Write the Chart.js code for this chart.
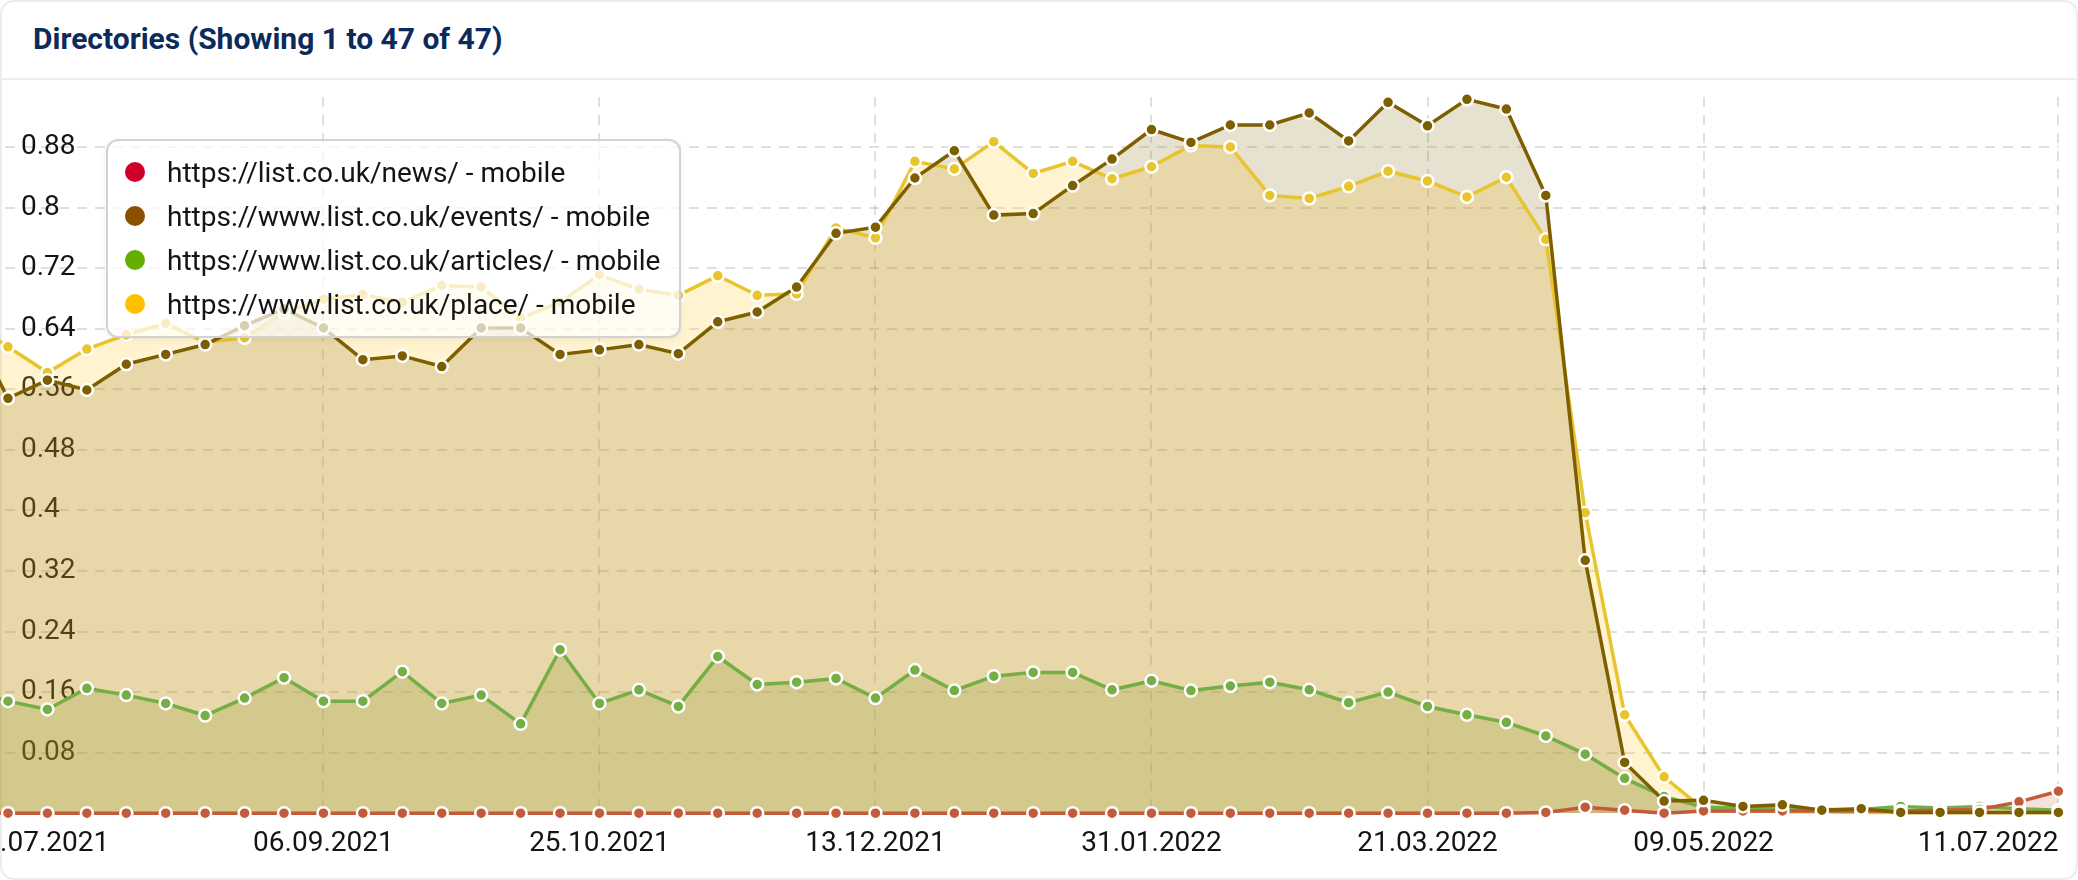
<!DOCTYPE html>
<html>
<head>
<meta charset="utf-8">
<title>Directories</title>
<script src="https://cdn.jsdelivr.net/npm/chart.js@4.4.1/dist/chart.umd.min.js"></script>
<style>
    html, body { margin: 0; padding: 0; background: #fff; }
    .card {
        position: relative;
        width: 2078px;
        height: 880px;
        overflow: hidden;
        border-radius: 14px;
        box-shadow: inset 0 0 0 2px #ececec;
        font-family: Roboto, "Noto Sans", sans-serif;
    }
    .card-header {
        position: absolute;
        left: 0; top: 0;
        width: 100%;
        height: 78px;
        border-bottom: 2px solid #eeeeee;
    }
    .card-header h2 {
        margin: 0;
        padding-left: 33px;
        line-height: 78px;
        font-size: 30px;
        font-weight: 700;
        color: #0c2a5a;
    }
    #chartWrap { position: absolute; left: -40px; top: 80px; }
    .legend {
        position: absolute;
        left: 106px; top: 139px;
        width: 575px; height: 199px;
        box-sizing: border-box;
        padding: 9px 0 0 17px;
        border: 2px solid #d2d2d2;
        border-radius: 12px;
        background: rgba(255, 255, 255, 0.7);
        box-shadow: 0 2px 6px rgba(0, 0, 0, 0.06);
    }
    .legend-item {
        display: flex;
        align-items: center;
        height: 44px;
        font-size: 28px;
        color: #141414;
        white-space: nowrap;
    }
    .legend-dot {
        width: 20px; height: 20px;
        border-radius: 50%;
        margin-right: 22px;
        flex: none;
    }
</style>
</head>
<body>
<div class="card">
    <div class="card-header"><h2>Directories (Showing 1 to 47 of 47)</h2></div>
    <div id="chartWrap"><canvas id="dirChart" width="2118" height="800"></canvas></div>
    <div class="legend" id="legend"></div>
</div>

<script>
// ---------------------------------------------------------
// data (weekly, first point sits just outside the visible card)
// ---------------------------------------------------------
const labels = [
    '05.07.2021', '12.07.2021', '19.07.2021', '26.07.2021', '02.08.2021', '09.08.2021',
    '16.08.2021', '23.08.2021', '30.08.2021', '06.09.2021', '13.09.2021', '20.09.2021',
    '27.09.2021', '04.10.2021', '11.10.2021', '18.10.2021', '25.10.2021', '01.11.2021',
    '08.11.2021', '15.11.2021', '22.11.2021', '29.11.2021', '06.12.2021', '13.12.2021',
    '20.12.2021', '27.12.2021', '03.01.2022', '10.01.2022', '17.01.2022', '24.01.2022',
    '31.01.2022', '07.02.2022', '14.02.2022', '21.02.2022', '28.02.2022', '07.03.2022',
    '14.03.2022', '21.03.2022', '28.03.2022', '04.04.2022', '11.04.2022', '18.04.2022',
    '25.04.2022', '02.05.2022', '09.05.2022', '16.05.2022', '23.05.2022', '30.05.2022',
    '06.06.2022', '13.06.2022', '20.06.2022', '27.06.2022', '04.07.2022', '11.07.2022'
];

const newsMobile = [
    0, 0, 0, 0, 0, 0, 0, 0, 0, 0,
    0, 0, 0, 0, 0, 0, 0, 0, 0, 0,
    0, 0, 0, 0, 0, 0, 0, 0, 0, 0,
    0, 0, 0, 0, 0, 0, 0, 0, 0, 0,
    0.001, 0.008, 0.004, 0, 0.003, 0.003, 0.003, 0.003, 0.003, 0.003,
    0.004, 0.005, 0.015, 0.029
];

const eventsMobile = [
    0.650, 0.548, 0.572, 0.559, 0.593, 0.606, 0.619, 0.644, 0.666, 0.641,
    0.599, 0.604, 0.590, 0.641, 0.641, 0.606, 0.612, 0.619, 0.607, 0.649,
    0.662, 0.695, 0.766, 0.774, 0.839, 0.875, 0.790, 0.792, 0.829, 0.864,
    0.903, 0.886, 0.909, 0.909, 0.925, 0.888, 0.939, 0.908, 0.943, 0.930,
    0.816, 0.334, 0.067, 0.016, 0.017, 0.009, 0.011, 0.004, 0.006, 0.001,
    0.001, 0.001, 0.001, 0.001
];

const articlesMobile = [
    0.163, 0.148, 0.137, 0.165, 0.156, 0.145, 0.129, 0.152, 0.179, 0.148,
    0.148, 0.187, 0.145, 0.156, 0.118, 0.216, 0.145, 0.163, 0.141, 0.207,
    0.170, 0.173, 0.178, 0.152, 0.189, 0.162, 0.181, 0.186, 0.186, 0.163,
    0.175, 0.162, 0.168, 0.173, 0.163, 0.146, 0.160, 0.141, 0.130, 0.120,
    0.102, 0.078, 0.046, 0.022, 0.008, 0.007, 0.006, 0.005, 0.005, 0.009,
    0.007, 0.009, 0.006, 0.004
];

const placeMobile = [
    0.650, 0.616, 0.582, 0.613, 0.632, 0.647, 0.622, 0.628, 0.661, 0.679,
    0.685, 0.675, 0.697, 0.695, 0.654, 0.675, 0.711, 0.692, 0.684, 0.710,
    0.684, 0.686, 0.773, 0.760, 0.861, 0.851, 0.887, 0.845, 0.861, 0.838,
    0.854, 0.882, 0.880, 0.816, 0.812, 0.828, 0.848, 0.835, 0.814, 0.840,
    0.758, 0.397, 0.130, 0.048, 0.005, 0.006, 0.002, 0.002, 0.001, 0.001,
    0.001, 0.001, 0.001, 0.001
];

// x labels that are actually printed (index into labels)
const xTickIndexes = [0, 9, 16, 23, 30, 37, 44, 53];
const yTickValues = [0.08, 0.16, 0.24, 0.32, 0.4, 0.48, 0.56, 0.64, 0.72, 0.8, 0.88];
const yMax = 0.946;

// series: legend colour + colour used on the plot
const series = [
    { label: 'https://list.co.uk/news/ - mobile',         data: newsMobile,     legend: '#d0002a', line: '#c35b3b', fill: 'rgba(195,91,59,0.18)',  order: 1 },
    { label: 'https://www.list.co.uk/events/ - mobile',   data: eventsMobile,   legend: '#8a5000', line: '#7e5f00', fill: 'rgba(126,95,0,0.19)',   order: 0 },
    { label: 'https://www.list.co.uk/articles/ - mobile', data: articlesMobile, legend: '#64ae00', line: '#74ae44', fill: 'rgba(150,160,50,0.22)', order: 2 },
    { label: 'https://www.list.co.uk/place/ - mobile',    data: placeMobile,    legend: '#ffc000', line: '#e8c52f', fill: 'rgba(255,200,40,0.22)', order: 3 }
];

document.addEventListener('DOMContentLoaded', function () {

    // ---- html legend ----
    const legendEl = document.getElementById('legend');
    series.forEach(s => {
        const row = document.createElement('div');
        row.className = 'legend-item';
        row.innerHTML = `<span class="legend-dot" style="background:${s.legend}"></span><span>${s.label}</span>`;
        legendEl.appendChild(row);
    });

    // ---- chart ----
    const showTick = i => xTickIndexes.includes(i);
    const gridColor = 'rgba(0,0,0,0.12)';
    const tickFont = { family: 'Roboto', size: 28 };

    new Chart(document.getElementById('dirChart'), {
        type: 'line',
        data: {
            labels: labels,
            datasets: series.map(s => ({
                label: s.label,
                data: s.data,
                order: s.order,
                borderColor: s.line,
                backgroundColor: s.fill,
                borderWidth: 3.5,
                fill: 'origin',
                tension: 0,
                pointRadius: 6,
                pointBorderWidth: 2.5,
                pointBorderColor: '#ffffff',
                pointBackgroundColor: s.line,
                clip: false,
            }))
        },
        options: {
            responsive: false,
            animation: false,
            events: [],
            layout: { padding: { left: 8.57, right: 19.6, top: 17, bottom: 0 } },
            plugins: {
                legend: { display: false },
                tooltip: { enabled: false },
                filler: { propagate: false, drawTime: 'beforeDatasetsDraw' }
            },
            scales: {
                x: {
                    type: 'category',
                    offset: false,
                    grid: {
                        color: ctx => showTick(ctx.index) ? gridColor : 'transparent',
                        lineWidth: 2,
                        drawTicks: false,
                    },
                    border: { display: false, dash: [10, 8] },
                    ticks: {
                        autoSkip: false,
                        maxRotation: 0,
                        minRotation: 0,
                        align: 'inner',
                        padding: 14,
                        font: tickFont,
                        color: '#141414',
                        callback: (v, i) => showTick(i) ? labels[i] : '',
                    },
                    afterFit: s => { s.paddingLeft = 0; s.paddingRight = 0; s.height = 66.8; }
                },
                y: {
                    min: 0,
                    max: yMax,
                    afterBuildTicks: s => { s.ticks = yTickValues.map(v => ({ value: v })); },
                    grid: { color: gridColor, lineWidth: 2, drawTicks: false },
                    border: { display: false, dash: [10, 8] },
                    ticks: {
                        mirror: true,
                        padding: 52.4,
                        font: tickFont,
                        color: '#141414',
                        callback: v => String(+v.toFixed(2)),
                    },
                    afterFit: s => { s.width = 0; s.paddingTop = 0; s.paddingBottom = 0; }
                }
            }
        }
    });
});
</script>
</body>
</html>
